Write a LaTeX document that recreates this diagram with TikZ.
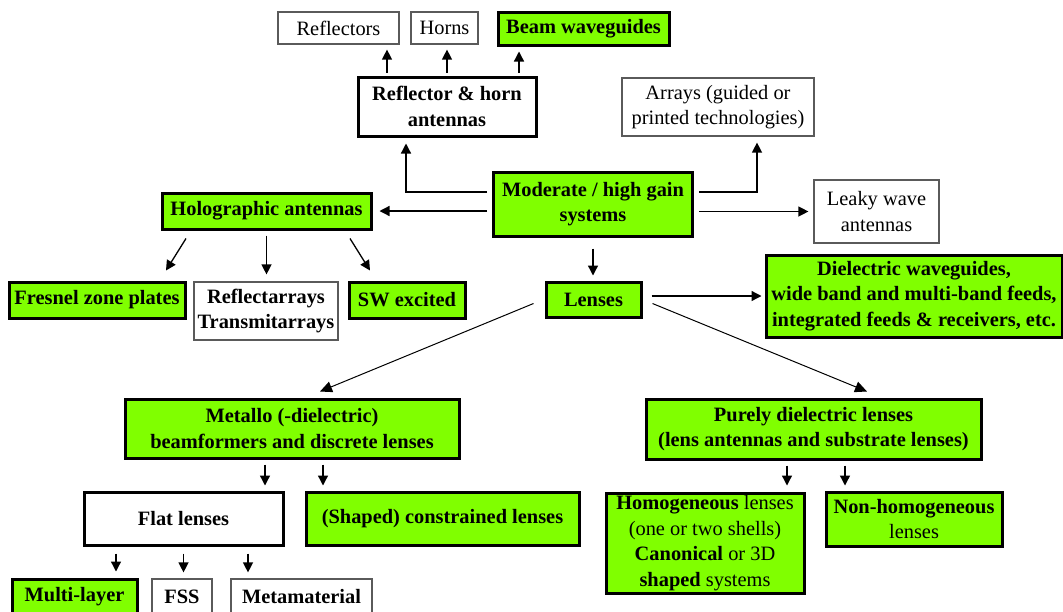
\documentclass[tikz,border=0pt]{standalone}
\usepackage{fontspec}
\setmainfont{Liberation Serif}
\usetikzlibrary{arrows.meta}
\definecolor{lensgreen}{RGB}{128,255,0}
\definecolor{thingray}{RGB}{90,90,90}
\newcommand{\boxfont}{\fontsize{20.4}{25.5}\selectfont}
\tikzset{
  thinbox/.style={draw=thingray, line width=1.2pt, fill=white, align=center, inner sep=0pt, font=\boxfont},
  whitebox/.style={draw=black, line width=3pt, fill=white, align=center, inner sep=0pt, font=\boxfont\bfseries},
  greenbox/.style={draw=black, line width=3pt, fill=lensgreen, align=center, inner sep=0pt, font=\boxfont\bfseries},
  sz/.style 2 args={minimum width=#1pt, minimum height=#2pt},
  arr/.style={-{Triangle[length=10pt,width=10pt]}, line width=1.3pt},
  diag/.style={-{Triangle[length=12pt,width=11pt]}, line width=1pt}
}
\begin{document}
\begin{tikzpicture}[x=1pt,y=-1pt]
\useasboundingbox (0,0) rectangle (1063,611);
% top row
\node[thinbox, sz={121}{32}] (refl) at (338.5,28) {Reflectors};
\node[thinbox, sz={67}{32}] (horns) at (444.5,28) {Horns};
\node[greenbox, sz={171}{33}] (beamwg) at (583.5,28.5) {Beam waveguides};
\node[whitebox, sz={178}{59}] (refhorn) at (447,106.5) {Reflector \& horn\\antennas};
\node[thinbox, sz={192}{58}] (arrays) at (718,107) {Arrays (guided or\\printed technologies)};
% centre
\node[greenbox, sz={199}{64}] (moderate) at (593,204) {Moderate / high gain\\systems};
\node[thinbox, sz={125}{63}] (leaky) at (876.5,211.5) {Leaky wave\\antennas};
\node[greenbox, sz={209}{36}] (holo) at (266.5,211) {Holographic antennas};
\node[greenbox, sz={176}{36}] (fresnel) at (97,300) {Fresnel zone plates};
\node[thinbox, font=\boxfont\bfseries, sz={144}{58}] (reftrans) at (266,311) {Reflectarrays\\Transmitarrays};
\node[greenbox, sz={116}{36}] (swex) at (407,300) {SW excited};
\node[greenbox, sz={95}{35}] (lenses) at (593.5,299.5) {Lenses};
\node[greenbox, sz={296}{82}] (dielwg) at (914,296) {Dielectric waveguides,\\wide band and multi-band feeds,\\integrated feeds \& receivers, etc.};
% lens families
\node[greenbox, sz={334}{59}] (metallo) at (292,428.5) {Metallo (-dielectric)\\beamformers and discrete lenses};
\node[greenbox, sz={335}{60}] (purely) at (813.5,429) {Purely dielectric lenses\\(lens antennas and substrate lenses)};
\node[whitebox, sz={199}{53}] (flat) at (183.5,518.5) {Flat lenses};
\node[greenbox, sz={273}{53}] (shaped) at (442.5,518.5) {(Shaped) constrained lenses};
\node[greenbox, font=\boxfont, sz={198}{100}] (homog) at (705,543) {\textbf{Homogeneous} lenses\\(one or two shells)\\\textbf{Canonical} or 3D\\\textbf{shaped} systems};
\node[greenbox, font=\boxfont, sz={176}{54}] (nonhomog) at (914,519) {\textbf{Non-homogeneous}\\lenses};
\node[greenbox, sz={125}{36}] (multi) at (74.5,597) {Multi-layer};
\node[thinbox, font=\boxfont\bfseries, sz={60}{36}] (fss) at (182,597) {FSS};
\node[thinbox, font=\boxfont\bfseries, sz={141}{36}] (meta) at (301.5,597) {Metamaterial};
% connectors
\draw[arr] ([xshift=-60pt,yshift=3pt]refhorn.north) -- ([xshift=-60pt,yshift=-5pt]refhorn.north |- refl.south);
\draw[arr] ([yshift=3pt]refhorn.north) -- ([yshift=-5pt]refhorn.north |- horns.south);
\draw[arr] ([xshift=72pt,yshift=3pt]refhorn.north) -- ([xshift=72pt,yshift=-5pt]refhorn.north |- beamwg.south);
\draw[arr] ([xshift=-5pt,yshift=12pt]moderate.west) -| ([xshift=-41pt,yshift=-6pt]refhorn.south);
\draw[arr] ([xshift=5pt,yshift=12pt]moderate.east) -| ([xshift=39pt,yshift=-6pt]arrays.south);
\draw[arr] ([xshift=5pt]moderate.east |- leaky.west) -- ([xshift=-5pt]leaky.west);
\draw[arr] ([xshift=-5pt]moderate.west |- holo.east) -- ([xshift=7pt]holo.east);
\draw[arr] ([yshift=-11pt]moderate.south) -- ([yshift=5pt]moderate.south |- lenses.north);
\draw[arr] ([xshift=-80.5pt,yshift=-8pt]holo.south) -- ([xshift=69pt,yshift=10pt]fresnel.north);
\draw[arr] ([yshift=-5pt]holo.south) -- ([yshift=7pt]holo.south |- reftrans.north);
\draw[arr] ([xshift=83.5pt,yshift=-8pt]holo.south) -- ([xshift=-37pt,yshift=10pt]swex.north);
\draw[arr] ([xshift=9pt]lenses.east |- dielwg.west) -- ([xshift=-3pt]dielwg.west);
\draw[diag] ([xshift=-11pt,yshift=-4pt]lenses.west) -- ([xshift=28pt,yshift=6pt]metallo.north);
\draw[diag] ([xshift=10pt,yshift=-4pt]lenses.east) -- ([xshift=53.5pt,yshift=6pt]purely.north);
\draw[arr] ([xshift=-27pt,yshift=-5pt]metallo.south) -- ([xshift=-27pt,yshift=5pt]metallo.south |- flat.north);
\draw[arr] ([xshift=31pt,yshift=-5pt]metallo.south) -- ([xshift=31pt,yshift=5pt]metallo.south |- shaped.north);
\draw[arr] ([xshift=-26.5pt,yshift=-5pt]purely.south) -- ([xshift=-26.5pt,yshift=6pt]purely.south |- homog.north);
\draw[arr] ([xshift=31.5pt,yshift=-5pt]purely.south) -- ([xshift=31.5pt,yshift=5pt]purely.south |- nonhomog.north);
\draw[arr] ([xshift=-67.5pt,yshift=-7pt]flat.south) -- ([xshift=-67.5pt,yshift=6pt]flat.south |- multi.north);
\draw[arr] ([yshift=-7pt]flat.south) -- ([yshift=6pt]flat.south |- fss.north);
\draw[arr] ([xshift=64.5pt,yshift=-7pt]flat.south) -- ([xshift=64.5pt,yshift=6pt]flat.south |- meta.north);
\end{tikzpicture}
\end{document}
